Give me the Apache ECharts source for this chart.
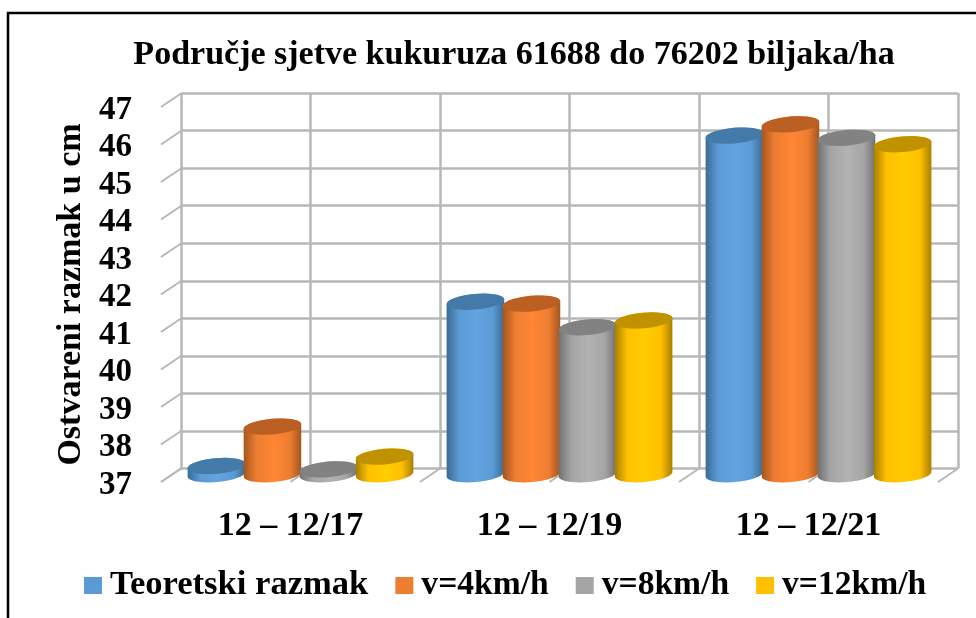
<!DOCTYPE html>
<html>
<head>
<meta charset="utf-8">
<title>Područje sjetve kukuruza</title>
<script src="https://cdn.jsdelivr.net/npm/echarts@6/dist/echarts.min.js"></script>
<style>
html, body { margin: 0; padding: 0; background: #fff; }
#chart { width: 976px; height: 618px; }
</style>
</head>
<body>
<div id="chart"></div>
<script>
var categories = ['12 – 12/17', '12 – 12/19', '12 – 12/21'];
var seriesNames = ['Teoretski razmak', 'v=4km/h', 'v=8km/h', 'v=12km/h'];
var teoretski = [37.22, 41.6, 46.03];
var v4 = [38.27, 41.55, 46.33];
var v8 = [37.13, 40.92, 45.97];
var v12 = [37.47, 41.1, 45.8];
var yTicks = [37, 38, 39, 40, 41, 42, 43, 44, 45, 46, 47];
var floorSteps = [0, 0.5, 1, 1.5, 2, 2.5, 3];

var fontName = '"Liberation Serif", "Times New Roman", serif';
var gridColor = '#b7b7b7';
var depthX = 20, depthY = -13.5;
// side colour, bright colour, shaded edge, top face
var colors = [
    ['#5b9bd5', '#62a4e0', '#3b6a94', '#437aa8'],
    ['#ed7d31', '#ff8634', '#a3571f', '#bb5f23'],
    ['#a5a5a5', '#b2b2b2', '#717171', '#828282'],
    ['#ffc000', '#ffcc00', '#a88000', '#c09200']
];
var values = [teoretski, v4, v8, v12];

function ellipsePoints(cx, cy, rx, ry, from, to) {
    var tilt = -5 * Math.PI / 180, pts = [];
    for (var i = 0; i <= 36; i++) {
        var t = from + (to - from) * i / 36;
        var ex = rx * Math.cos(t), ey = ry * Math.sin(t);
        pts.push([cx + ex * Math.cos(tilt) - ey * Math.sin(tilt),
                  cy + ex * Math.sin(tilt) + ey * Math.cos(tilt)]);
    }
    return pts;
}

function cylinder(index) {
    return function(params, api) {
        var band = api.size([1, 0])[0];
        var step = band * 0.2165;
        var rx = step * 0.515, ry = 7.8;
        var x = api.coord([api.value(0), 37])[0] + depthX / 2 + (index - 1.5) * step;
        var base = api.coord([0, 37])[1] + depthY / 2 - 1;
        var top = base + api.coord([0, api.value(1)])[1] - api.coord([0, 37])[1];
        var c = colors[index];
        var side = new echarts.graphic.LinearGradient(0, 0, 1, 0, [
            {offset: 0, color: c[2]},
            {offset: 0.22, color: c[0]},
            {offset: 0.52, color: c[1]},
            {offset: 0.8, color: c[0]},
            {offset: 1, color: c[2]}
        ]);
        var body = ellipsePoints(x, top, rx, ry, Math.PI, 2 * Math.PI)
            .concat(ellipsePoints(x, base, rx, ry, 0, Math.PI));
        return {
            type: 'group',
            children: [
                {type: 'polygon', shape: {points: body}, style: {fill: side}},
                {type: 'polygon', shape: {points: ellipsePoints(x, top, rx, ry, 0, 2 * Math.PI)}, style: {fill: c[3]}}
            ]
        };
    };
}

var series = [];
// kratke crte na lijevom zidu
series.push({
    type: 'custom',
    silent: true,
    z: 1,
    data: yTicks.map(function(t) { return [0, t]; }),
    renderItem: function(params, api) {
        var y = api.coord([0, api.value(1)])[1];
        var x = params.coordSys.x;
        return {
            type: 'line',
            shape: {x1: x, y1: y, x2: x + depthX, y2: y + depthY},
            style: {stroke: gridColor, lineWidth: 2}
        };
    }
});
// crte na podu
series.push({
    type: 'custom',
    silent: true,
    z: 1,
    data: floorSteps.map(function(t) { return [t, 37]; }),
    renderItem: function(params, api) {
        var x = params.coordSys.x + api.value(0) * params.coordSys.width / categories.length;
        var y = params.coordSys.y + params.coordSys.height;
        return {
            type: 'line',
            shape: {x1: x, y1: y, x2: x + depthX, y2: y + depthY},
            style: {stroke: gridColor, lineWidth: 2}
        };
    },
    encode: {x: 0, y: 1}
});
seriesNames.forEach(function(name, i) {
    series.push({
        name: name,
        type: 'custom',
        z: 2 + i,
        itemStyle: {color: colors[i][0]},
        data: values[i].map(function(v, k) { return [k, v]; }),
        encode: {x: 0, y: 1},
        renderItem: cylinder(i)
    });
});

var myChart = echarts.init(document.getElementById('chart'), null, {renderer: 'canvas'});
myChart.setOption({
    animation: false,
    backgroundColor: '#fff',
    textStyle: {fontFamily: fontName},
    title: {
        text: 'Područje sjetve kukuruza 61688 do 76202 biljaka/ha',
        left: 514,
        top: 38,
        padding: 0,
        textAlign: 'center',
        textStyle: {fontFamily: fontName, fontSize: 34, fontWeight: 'bold', color: '#000'}
    },
    legend: {
        data: seriesNames.map(function(name, i) {
            return {name: name, textStyle: {fontSize: i == 0 ? 34.6 : 33.6}};
        }),
        left: 84,
        top: 568,
        padding: 0,
        itemWidth: 18,
        itemHeight: 17,
        itemGap: 27,
        icon: 'rect',
        textStyle: {fontFamily: fontName, fontSize: 34, fontWeight: 'bold', color: '#000', padding: [0, 0, 0, 3]}
    },
    graphic: [{
        type: 'rect',
        silent: true,
        z: 100,
        shape: {x: 8, y: 13, width: 1000, height: 650},
        style: {fill: 'none', stroke: '#000', lineWidth: 2.5}
    }],
    grid: [
        {left: 161, right: 38, top: 107, bottom: 136},
        {left: 181, right: 18, top: 93, bottom: 149.5}
    ],
    xAxis: [{
        type: 'category',
        data: categories,
        gridIndex: 0,
        axisLine: {show: false},
        axisTick: {show: false},
        axisLabel: {margin: 27, fontFamily: fontName, fontSize: 34, fontWeight: 'bold', color: '#000'}
    }, {
        type: 'value',
        gridIndex: 1,
        min: 0,
        max: 6,
        interval: 1,
        axisLine: {show: false},
        axisTick: {show: false},
        axisLabel: {show: false},
        splitLine: {show: true, lineStyle: {color: gridColor, width: 2.5}}
    }],
    yAxis: [{
        type: 'value',
        gridIndex: 0,
        min: 37,
        max: 47,
        interval: 1,
        name: 'Ostvareni razmak u cm',
        nameLocation: 'middle',
        nameRotate: 90,
        nameGap: 70,
        nameTextStyle: {fontFamily: fontName, fontSize: 34, fontWeight: 'bold', color: '#000'},
        axisLine: {show: false},
        axisTick: {show: false},
        splitLine: {show: false},
        axisLabel: {
            margin: 29,
            formatter: '{a|{value}}',
            rich: {a: {padding: [6, 0, 0, 0], fontFamily: fontName, fontSize: 33, fontWeight: 'bold', color: '#000'}}
        }
    }, {
        type: 'value',
        gridIndex: 1,
        min: 37,
        max: 47,
        interval: 1,
        axisLine: {show: false},
        axisTick: {show: false},
        axisLabel: {show: false},
        splitLine: {show: true, lineStyle: {color: gridColor, width: 2.5}}
    }],
    series: series
});
</script>
</body>
</html>
